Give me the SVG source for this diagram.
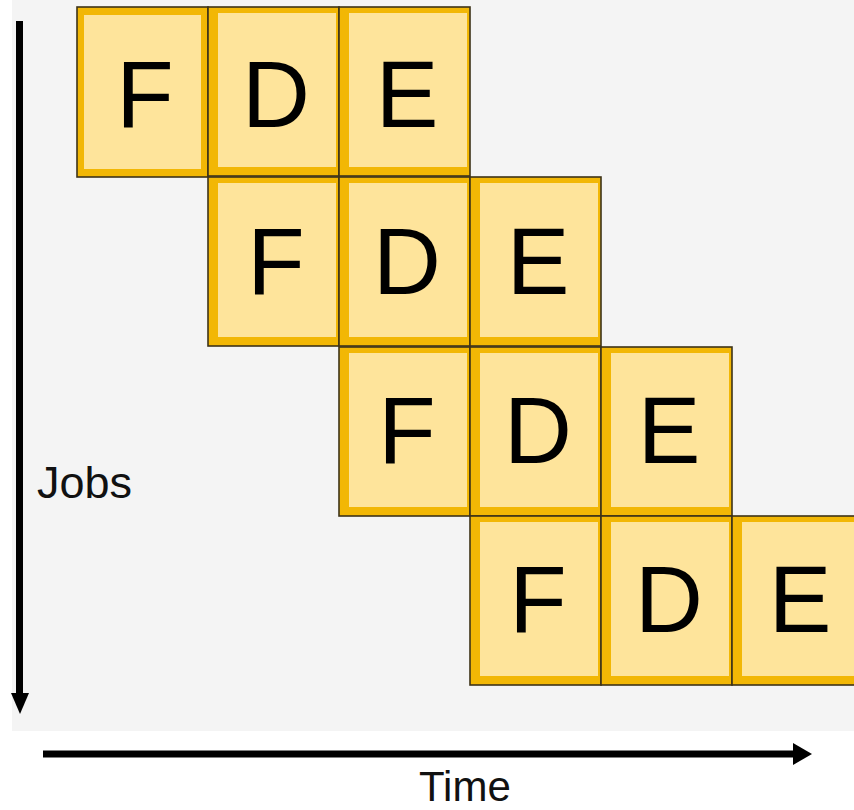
<svg xmlns="http://www.w3.org/2000/svg" width="854" height="810" viewBox="0 0 854 810">
<defs>
<style>
.out{fill:#f2b705;stroke:#3d3318;stroke-width:1.6}
.in{fill:#fee49b}
.lt{font-family:"Liberation Sans",Arial,sans-serif;font-size:94px;fill:#000;text-anchor:middle}
.ax{font-family:"Liberation Sans",Arial,sans-serif;fill:#111}
</style>
<symbol id="cell" overflow="visible">
<rect class="out" x="0" y="0" width="131" height="169"/>
<rect class="in" x="10" y="6" width="118" height="154"/>
</symbol>
</defs>
<rect x="0" y="0" width="854" height="810" fill="#ffffff"/>
<rect x="12" y="0" width="842" height="731" fill="#f4f4f4"/>
<g id="row1">
<g id="r1-F"><rect class="out" x="77" y="7" width="131" height="170"/><rect class="in" x="84" y="15" width="117" height="154"/><text class="lt" x="145" y="127">F</text></g>
<g id="r1-D"><use href="#cell" x="208" y="7"/><text class="lt" x="276" y="127">D</text></g>
<g id="r1-E"><use href="#cell" x="339" y="7"/><text class="lt" x="407" y="127">E</text></g>
</g>
<g id="row2">
<g id="r2-F"><use href="#cell" x="208" y="177"/><text class="lt" x="276" y="294">F</text></g>
<g id="r2-D"><use href="#cell" x="339" y="177"/><text class="lt" x="407" y="294">D</text></g>
<g id="r2-E"><use href="#cell" x="470" y="177"/><text class="lt" x="538" y="294">E</text></g>
</g>
<g id="row3">
<g id="r3-F"><use href="#cell" x="339" y="347"/><text class="lt" x="407" y="463">F</text></g>
<g id="r3-D"><use href="#cell" x="470" y="347"/><text class="lt" x="538" y="463">D</text></g>
<g id="r3-E"><use href="#cell" x="601" y="347"/><text class="lt" x="669" y="463">E</text></g>
</g>
<g id="row4">
<g id="r4-F"><use href="#cell" x="470" y="516"/><text class="lt" x="538" y="632">F</text></g>
<g id="r4-D"><use href="#cell" x="601" y="516"/><text class="lt" x="669" y="632">D</text></g>
<g id="r4-E"><use href="#cell" x="732" y="516"/><text class="lt" x="800" y="632">E</text></g>
</g>
<g id="connectors">
<rect x="16" y="21" width="7" height="673" fill="#000"/>
<polygon points="11,693 29,693 20,714" fill="#000"/>
<rect x="43" y="750.5" width="752" height="7" fill="#000"/>
<polygon points="793,743 812,754 793,765" fill="#000"/>
</g>
<text class="ax" x="37" y="498" font-size="45">Jobs</text>
<text class="ax" x="419" y="801" font-size="42">Time</text>
</svg>
